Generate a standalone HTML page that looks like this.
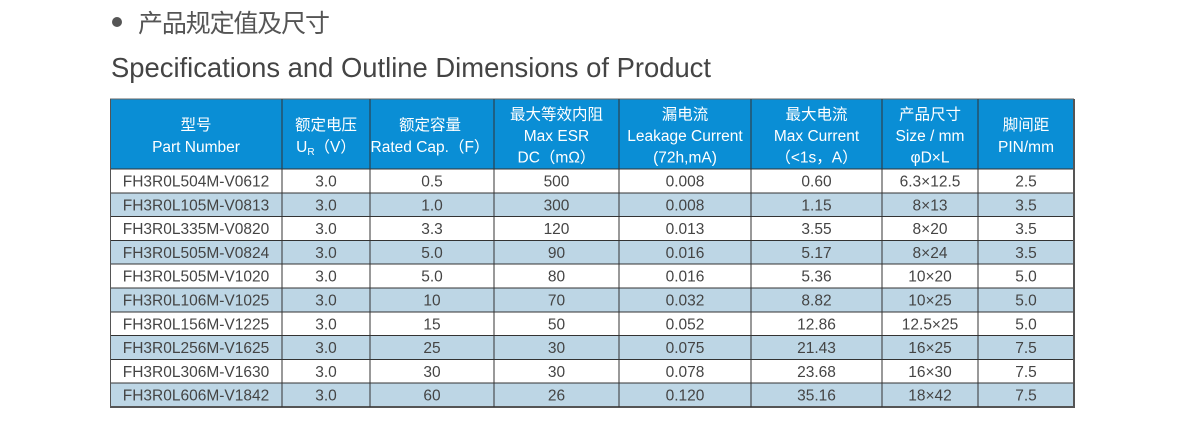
<!DOCTYPE html>
<html><head><meta charset="utf-8">
<style>
html,body{margin:0;padding:0;background:#fff;}
svg{display:block;}
.h{font-family:"Liberation Sans","Noto Sans CJK SC",sans-serif;font-size:15.5px;fill:#fff;text-anchor:middle;}
.b{font-family:"Liberation Sans","Noto Sans CJK SC",sans-serif;font-size:15.5px;fill:#444;text-anchor:middle;}
</style></head>
<body>
<svg width="1184" height="421" viewBox="0 0 1184 421" xmlns="http://www.w3.org/2000/svg">
<rect width="1184" height="421" fill="#fff"/>
<circle cx="117" cy="22" r="5" fill="#555"/>
<text x="138" y="32" font-family="'Noto Sans CJK SC',sans-serif" font-size="25" fill="#555" textLength="192" lengthAdjust="spacing">产品规定值及尺寸</text>
<text x="111" y="77" font-family="'Liberation Sans',sans-serif" font-size="27.5" fill="#444" textLength="600" lengthAdjust="spacingAndGlyphs">Specifications and Outline Dimensions of Product</text>

<!-- header -->
<rect x="110" y="99" width="964" height="70" fill="#0a8ed5"/>
<!-- rows bg -->
<g fill="#bdd6e5">
<rect x="110" y="192.8" width="964" height="23.8"/>
<rect x="110" y="240.4" width="964" height="23.8"/>
<rect x="110" y="288" width="964" height="23.8"/>
<rect x="110" y="335.6" width="964" height="23.8"/>
<rect x="110" y="383.2" width="964" height="23.8"/>
</g>

<!-- grid -->
<g stroke="#333" stroke-width="1" shape-rendering="crispEdges">
<line x1="110" y1="99" x2="1074" y2="99" stroke="#666"/>
<line x1="110" y1="169" x2="1074" y2="169"/>
<line x1="110" y1="192.8" x2="1074" y2="192.8"/>
<line x1="110" y1="216.6" x2="1074" y2="216.6"/>
<line x1="110" y1="240.4" x2="1074" y2="240.4"/>
<line x1="110" y1="264.2" x2="1074" y2="264.2"/>
<line x1="110" y1="288" x2="1074" y2="288"/>
<line x1="110" y1="311.8" x2="1074" y2="311.8"/>
<line x1="110" y1="335.6" x2="1074" y2="335.6"/>
<line x1="110" y1="359.4" x2="1074" y2="359.4"/>
<line x1="110" y1="383.2" x2="1074" y2="383.2"/>
<line x1="110" y1="407" x2="1074" y2="407" stroke="#555" stroke-width="2"/>
<line x1="110.5" y1="99" x2="110.5" y2="407" stroke="#555"/>
<line x1="282" y1="99" x2="282" y2="407"/>
<line x1="370" y1="99" x2="370" y2="407"/>
<line x1="494" y1="99" x2="494" y2="407"/>
<line x1="619" y1="99" x2="619" y2="407"/>
<line x1="751" y1="99" x2="751" y2="407"/>
<line x1="882" y1="99" x2="882" y2="407"/>
<line x1="978" y1="99" x2="978" y2="407"/>
<line x1="1074" y1="99" x2="1074" y2="408" stroke="#555" stroke-width="2"/>
</g>

<!-- header text -->
<text class="h" x="196" y="130">型号</text>
<text class="h" x="196" y="152">Part Number</text>
<text class="h" x="326" y="130">额定电压</text>
<text class="h" x="326" y="152">U<tspan font-size="10" dy="3">R</tspan><tspan dy="-3">（V）</tspan></text>
<text class="h" x="430" y="130">额定容量</text>
<text class="h" x="430" y="152">Rated Cap.（F）</text>
<text class="h" x="556.5" y="119.5">最大等效内阻</text>
<text class="h" x="556.5" y="141">Max ESR</text>
<text class="h" x="556.5" y="162.5">DC（mΩ）</text>
<text class="h" x="685" y="119.5">漏电流</text>
<text class="h" x="685" y="141">Leakage Current</text>
<text class="h" x="685" y="162.5">(72h,mA)</text>
<text class="h" x="816.5" y="119.5">最大电流</text>
<text class="h" x="816.5" y="141">Max Current</text>
<text class="h" x="816.5" y="162.5">（&lt;1s，A）</text>
<text class="h" x="930" y="119.5">产品尺寸</text>
<text class="h" x="930" y="141">Size / mm</text>
<text class="h" x="930" y="162.5">φD×L</text>
<text class="h" x="1026" y="130">脚间距</text>
<text class="h" x="1026" y="152">PIN/mm</text>

<!-- body -->
<g class="b">
<text class="b" x="196" y="186.5">FH3R0L504M-V0612</text><text class="b" x="326" y="186.5">3.0</text><text class="b" x="432" y="186.5">0.5</text><text class="b" x="556.5" y="186.5">500</text><text class="b" x="685" y="186.5">0.008</text><text class="b" x="816.5" y="186.5">0.60</text><text class="b" x="930" y="186.5">6.3×12.5</text><text class="b" x="1026" y="186.5">2.5</text>
<text class="b" x="196" y="210.3">FH3R0L105M-V0813</text><text class="b" x="326" y="210.3">3.0</text><text class="b" x="432" y="210.3">1.0</text><text class="b" x="556.5" y="210.3">300</text><text class="b" x="685" y="210.3">0.008</text><text class="b" x="816.5" y="210.3">1.15</text><text class="b" x="930" y="210.3">8×13</text><text class="b" x="1026" y="210.3">3.5</text>
<text class="b" x="196" y="234.1">FH3R0L335M-V0820</text><text class="b" x="326" y="234.1">3.0</text><text class="b" x="432" y="234.1">3.3</text><text class="b" x="556.5" y="234.1">120</text><text class="b" x="685" y="234.1">0.013</text><text class="b" x="816.5" y="234.1">3.55</text><text class="b" x="930" y="234.1">8×20</text><text class="b" x="1026" y="234.1">3.5</text>
<text class="b" x="196" y="257.9">FH3R0L505M-V0824</text><text class="b" x="326" y="257.9">3.0</text><text class="b" x="432" y="257.9">5.0</text><text class="b" x="556.5" y="257.9">90</text><text class="b" x="685" y="257.9">0.016</text><text class="b" x="816.5" y="257.9">5.17</text><text class="b" x="930" y="257.9">8×24</text><text class="b" x="1026" y="257.9">3.5</text>
<text class="b" x="196" y="281.7">FH3R0L505M-V1020</text><text class="b" x="326" y="281.7">3.0</text><text class="b" x="432" y="281.7">5.0</text><text class="b" x="556.5" y="281.7">80</text><text class="b" x="685" y="281.7">0.016</text><text class="b" x="816.5" y="281.7">5.36</text><text class="b" x="930" y="281.7">10×20</text><text class="b" x="1026" y="281.7">5.0</text>
<text class="b" x="196" y="305.5">FH3R0L106M-V1025</text><text class="b" x="326" y="305.5">3.0</text><text class="b" x="432" y="305.5">10</text><text class="b" x="556.5" y="305.5">70</text><text class="b" x="685" y="305.5">0.032</text><text class="b" x="816.5" y="305.5">8.82</text><text class="b" x="930" y="305.5">10×25</text><text class="b" x="1026" y="305.5">5.0</text>
<text class="b" x="196" y="329.3">FH3R0L156M-V1225</text><text class="b" x="326" y="329.3">3.0</text><text class="b" x="432" y="329.3">15</text><text class="b" x="556.5" y="329.3">50</text><text class="b" x="685" y="329.3">0.052</text><text class="b" x="816.5" y="329.3">12.86</text><text class="b" x="930" y="329.3">12.5×25</text><text class="b" x="1026" y="329.3">5.0</text>
<text class="b" x="196" y="353.1">FH3R0L256M-V1625</text><text class="b" x="326" y="353.1">3.0</text><text class="b" x="432" y="353.1">25</text><text class="b" x="556.5" y="353.1">30</text><text class="b" x="685" y="353.1">0.075</text><text class="b" x="816.5" y="353.1">21.43</text><text class="b" x="930" y="353.1">16×25</text><text class="b" x="1026" y="353.1">7.5</text>
<text class="b" x="196" y="376.9">FH3R0L306M-V1630</text><text class="b" x="326" y="376.9">3.0</text><text class="b" x="432" y="376.9">30</text><text class="b" x="556.5" y="376.9">30</text><text class="b" x="685" y="376.9">0.078</text><text class="b" x="816.5" y="376.9">23.68</text><text class="b" x="930" y="376.9">16×30</text><text class="b" x="1026" y="376.9">7.5</text>
<text class="b" x="196" y="400.7">FH3R0L606M-V1842</text><text class="b" x="326" y="400.7">3.0</text><text class="b" x="432" y="400.7">60</text><text class="b" x="556.5" y="400.7">26</text><text class="b" x="685" y="400.7">0.120</text><text class="b" x="816.5" y="400.7">35.16</text><text class="b" x="930" y="400.7">18×42</text><text class="b" x="1026" y="400.7">7.5</text>
</g>
</svg>
</body></html>
